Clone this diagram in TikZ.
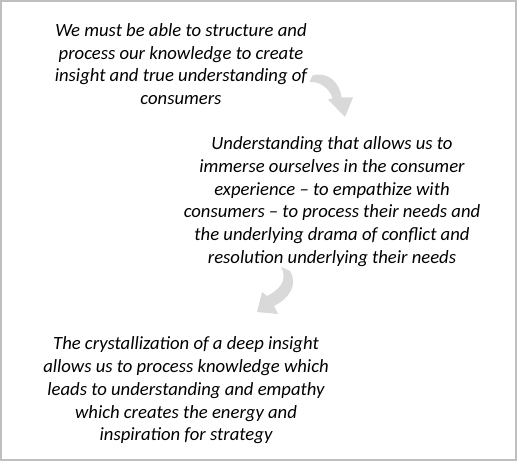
\documentclass[tikz,border=0pt]{standalone}
\usepackage{fontspec}
\setmainfont{Carlito}
\definecolor{framegrey}{HTML}{BFBFBF}
\definecolor{arrowgrey}{HTML}{D9D9D9}
\begin{document}
\begin{tikzpicture}[x=1pt,y=-1pt,
  blocktext/.style={align=center,inner sep=0pt,font=\fontsize{18.67}{22.7}\selectfont\itshape,text=black},
  curvedarrow/.style={fill=arrowgrey,draw=none}]
\useasboundingbox (0,0) rectangle (517,473);
\draw[framegrey,line width=2pt] (1,1) rectangle (516,460);

\node[blocktext] (b1) at (181,64) {We must be able to structure and\\process our knowledge to create\\insight and true understanding of\\consumers};
\node[blocktext] (b2) at (332,201.5) {Understanding that allows us to\\immerse ourselves in the consumer\\experience -- to empathize with\\consumers -- to process their needs and\\the underlying drama of conflict and\\resolution underlying their needs};
\node[blocktext] (b3) at (186,390.5) {The crystallization of a deep insight\\allows us to process knowledge which\\leads to understanding and empathy\\which creates the energy and\\inspiration for strategy};

% arrow 1
\fill[curvedarrow] (312.5,75.5) .. controls (327,71) and (340,82) .. (341.5,97.5)
  -- (353,97.5) -- (345,117) -- (328,99.5) -- (332.5,98.5)
  .. controls (330,89) and (320,81) .. (309.5,82) -- cycle;
% arrow 2
\fill[curvedarrow] (281.3,267) -- (290,271) .. controls (298,284) and (290,298) .. (274,306)
  -- (278,314) -- (257,312) -- (262,292) -- (267,296)
  .. controls (279,290) and (288,281) .. (281.3,267) -- cycle;
\end{tikzpicture}
\end{document}
